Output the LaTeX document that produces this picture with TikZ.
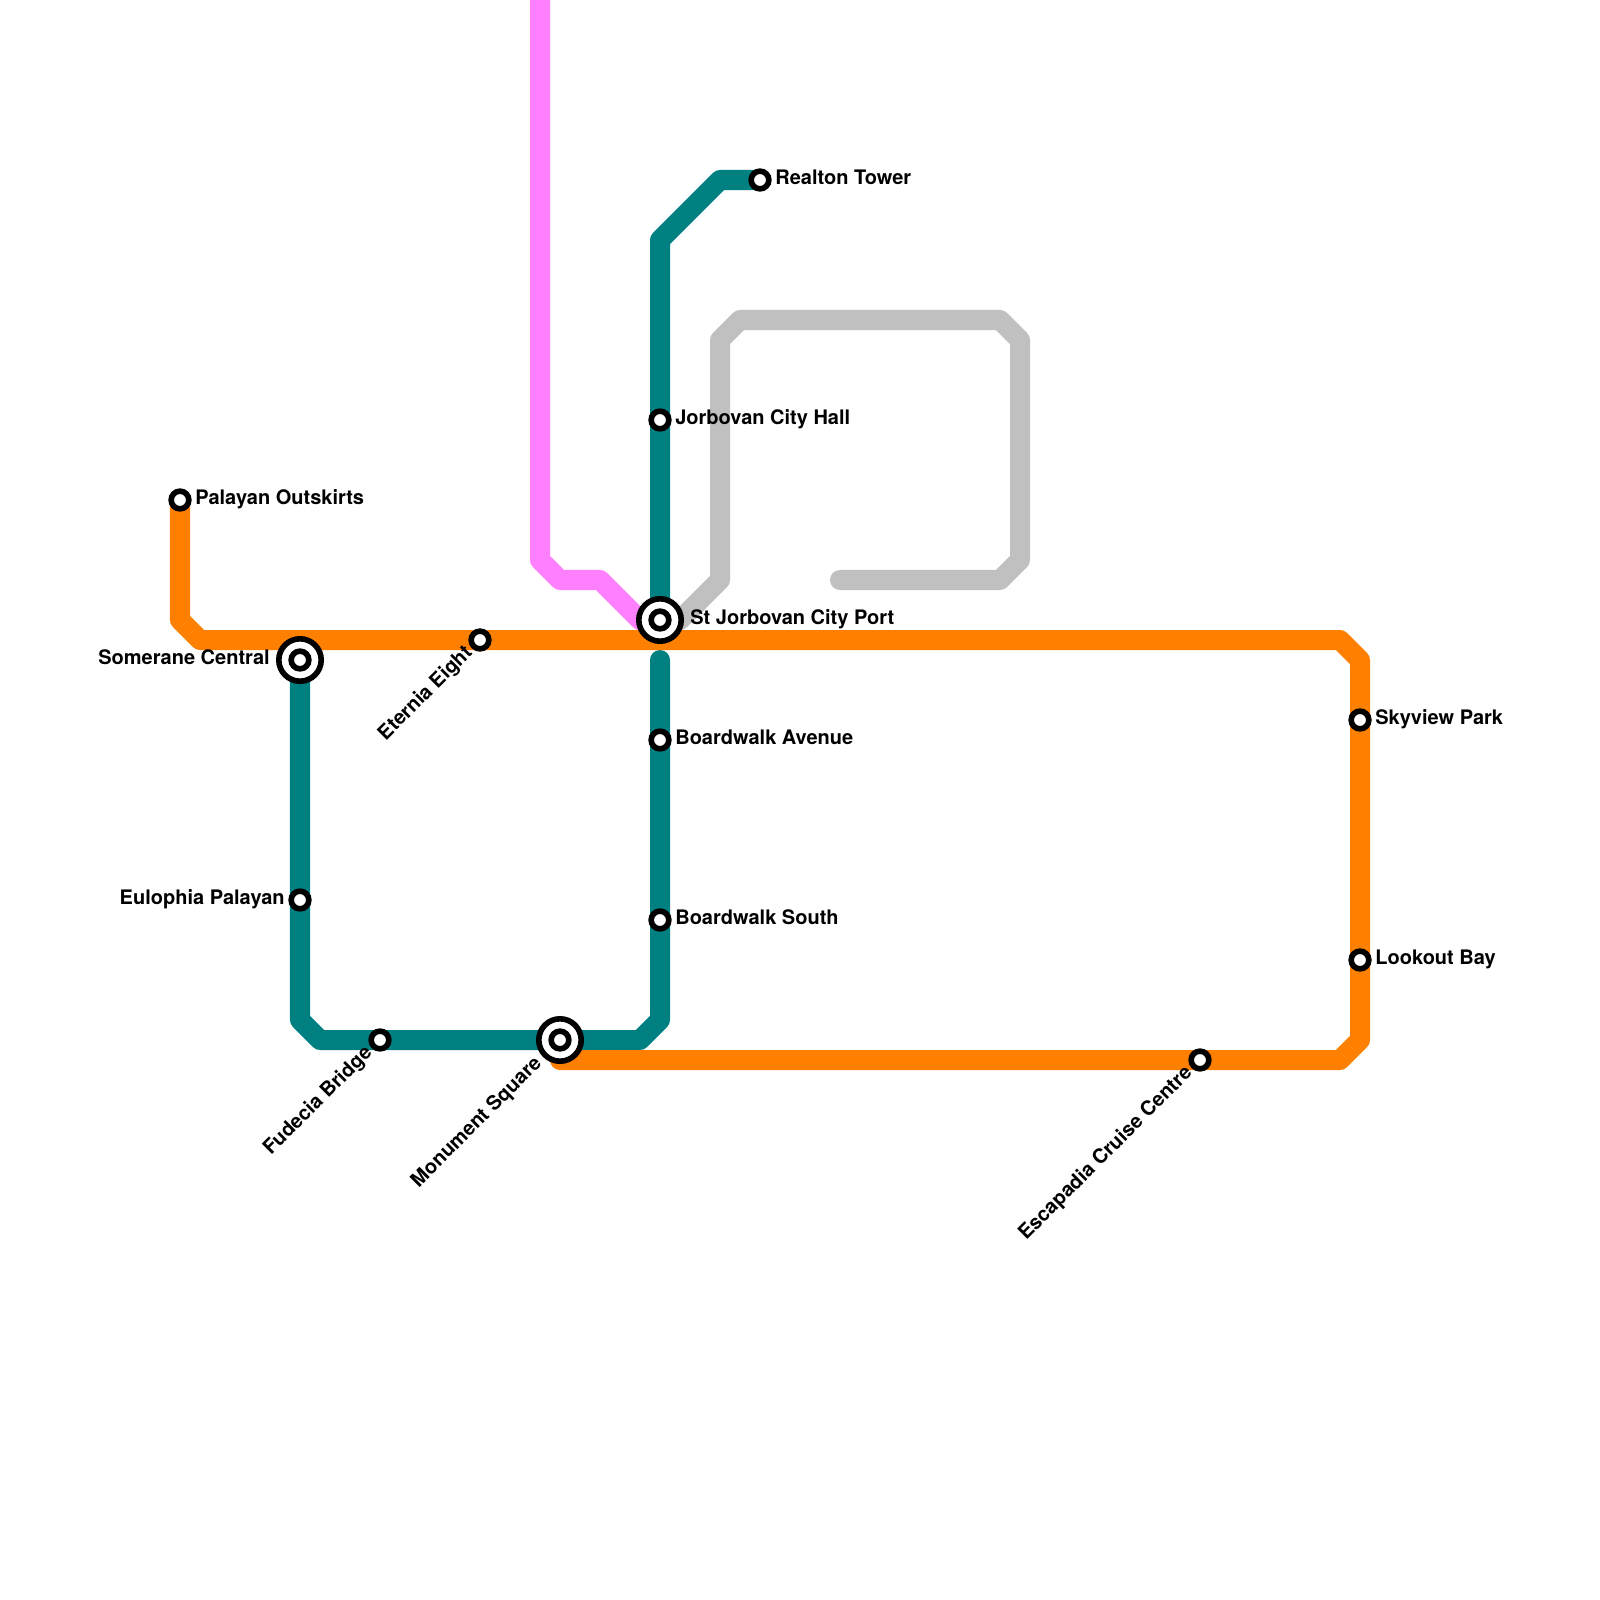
\documentclass[tikz,border=0pt]{standalone}
\usepackage{fontspec}
\setmainfont{TeX Gyre Heros}
\usetikzlibrary{positioning,backgrounds}
\definecolor{tealline}{RGB}{0,128,128}
\definecolor{orangeline}{RGB}{255,128,0}
\definecolor{pinkline}{RGB}{255,128,255}
\definecolor{grayline}{RGB}{192,192,192}
\tikzset{
  route/.style={line width=5.69pt, line join=round, line cap=round},
  stop/.style={circle, draw=black, fill=white, line width=1.6pt, inner sep=0pt, minimum size=17.7*0.01cm},
  hub/.style={circle, draw=black, fill=white, line width=1.6pt, inner sep=0pt, minimum size=42.4*0.01cm, path picture={\draw[black, line width=1.6pt] (path picture bounding box.center) circle (0.0885cm);}},
  stn/.style={inner sep=0pt, font=\fontsize{5.69pt}{6pt}\selectfont\bfseries, text height=4.1pt, text depth=1.3pt},
  stnleft/.style={stn, anchor=east},
  stnright/.style={stn, anchor=west},
  stndiag/.style={stn, rotate=45, anchor=east}
}
\begin{document}
\begin{tikzpicture}[x=0.01cm,y=-0.01cm]
  \useasboundingbox (0,0) rectangle (1600,1600);

  % Stations
  \node[stop] (palayan) at (180,500) {};
  \node[hub] (somerane) at (300,660) {};
  \node[stop] (eternia) at (480,640) {};
  \node[hub] (port) at (660,620) {};
  \node[stop] (realton) at (760,180) {};
  \node[stop] (cityhall) at (660,420) {};
  \node[stop] (boardwalk) at (660,740) {};
  \node[stop] (bwsouth) at (660,920) {};
  \node[stop] (eulophia) at (300,900) {};
  \node[stop] (fudecia) at (380,1040) {};
  \node[hub] (monument) at (560,1040) {};
  \node[stop] (skyview) at (1360,720) {};
  \node[stop] (lookout) at (1360,960) {};
  \node[stop] (escapadia) at (1200,1060) {};

  % Bends of the lines
  \coordinate (p0) at (540,0);
  \coordinate (p1) at (540,560);
  \coordinate (p2) at (560,580);
  \coordinate (p3) at (600,580);
  \coordinate (p4) at (640,620);
  \coordinate (g0) at (680,620);
  \coordinate (g1) at (720,580);
  \coordinate (g2) at (720,340);
  \coordinate (g3) at (740,320);
  \coordinate (g4) at (1000,320);
  \coordinate (g5) at (1020,340);
  \coordinate (g6) at (1020,560);
  \coordinate (g7) at (1000,580);
  \coordinate (g8) at (840,580);
  \coordinate (t1) at (660,240);
  \coordinate (t2) at (720,180);
  \coordinate (t3) at (660,660);
  \coordinate (t4) at (660,1020);
  \coordinate (t5) at (640,1040);
  \coordinate (t6) at (320,1040);
  \coordinate (t7) at (300,1020);
  \coordinate (o1) at (180,620);
  \coordinate (o2) at (200,640);
  \coordinate (o3) at (1340,640);
  \coordinate (o4) at (1360,660);
  \coordinate (o5) at (1360,1040);
  \coordinate (o6) at (1340,1060);
  \coordinate (o7) at (560,1060);

  \begin{pgfonlayer}{background}
    \draw[route,pinkline] (p0)--(p1)--(p2)--(p3)--(p4)--(port.center);
    \draw[route,grayline] (port.center)--(g0)--(g1)--(g2)--(g3)--(g4)--(g5)--(g6)--(g7)--(g8);
    \draw[route,tealline] (port.center)--(t1)--(t2)--(realton.center);
    \draw[route,tealline] (t3)--(t4)--(t5)--(t6)--(t7)--(somerane.center);
    \draw[route,orangeline] (palayan.center)--(o1)--(o2)--(o3)--(o4)--(o5)--(o6)--(o7);
  \end{pgfonlayer}

  % Labels
  \node[stnright, right=0.146cm of palayan.center] (palayanlbl) {Palayan Outskirts};
  \node[stnleft, left=0.295cm of somerane.center] (someranelbl) {Somerane Central};
  \node[stnright, right=0.296cm of port.center] (portlbl) {St Jorbovan City Port};
  \node[stnright, right=0.146cm of realton.center] (realtonlbl) {Realton Tower};
  \node[stnright, right=0.146cm of cityhall.center] (cityhalllbl) {Jorbovan City Hall};
  \node[stnright, right=0.146cm of boardwalk.center] (boardwalklbl) {Boardwalk Avenue};
  \node[stnright, right=0.146cm of bwsouth.center] (bwsouthlbl) {Boardwalk South};
  \node[stnleft, left=0.146cm of eulophia.center] (eulophialbl) {Eulophia Palayan};
  \node[stnright, right=0.146cm of skyview.center] (skyviewlbl) {Skyview Park};
  \node[stnright, right=0.146cm of lookout.center] (lookoutlbl) {Lookout Bay};
  \node[stndiag, below left=0.14cm of eternia.center, anchor=east] (eternialbl) {Eternia Eight};
  \node[stndiag, below left=0.14cm of fudecia.center, anchor=east] (fudecialbl) {Fudecia Bridge};
  \node[stndiag, below left=0.29cm of monument.center, anchor=east] (monumentlbl) {Monument Square};
  \node[stndiag, below left=0.14cm of escapadia.center, anchor=east] (escapadialbl) {Escapadia Cruise Centre};
\end{tikzpicture}
\end{document}
